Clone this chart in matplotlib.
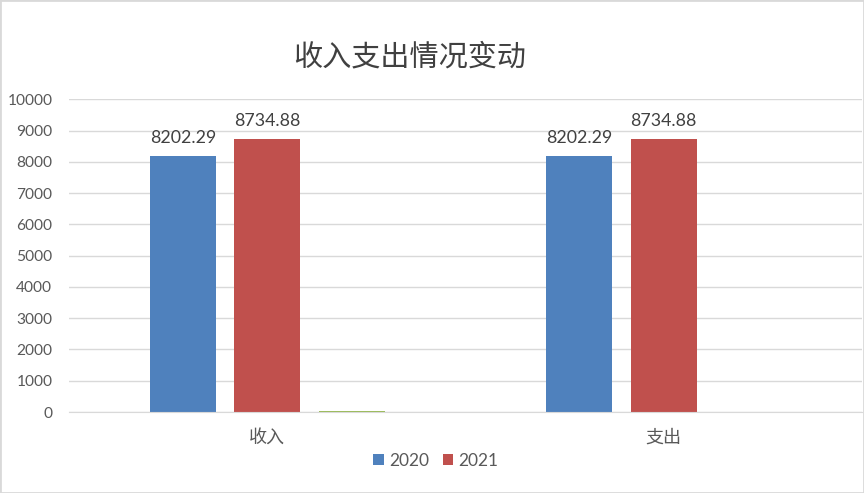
import matplotlib
matplotlib.use("Agg")
import matplotlib.pyplot as plt
from matplotlib.patches import Rectangle
import numpy as np

categories = ["收入", "支出"]
series_names = ["2020", "2021"]
values_2020 = [8202.29, 8202.29]
values_2021 = [8734.88, 8734.88]
values_extra = [30, 0]
yticks = [0, 1000, 2000, 3000, 4000, 5000, 6000, 7000, 8000, 9000, 10000]

plt.rcParams['font.family'] = ['Lato', 'Noto Sans CJK SC', 'DejaVu Sans']
txt = '#595959'

fig = plt.figure(figsize=(8.64, 4.93), dpi=100)
W, H = 864, 493
ax = fig.add_axes([69 / W, 1 - 412 / H, (862 - 69) / W, (412 - 99.3) / H])

x = np.arange(len(categories))
bw = 0.1665
off = 0.213
b1 = ax.bar(x - off, values_2020, bw, color='#4F81BD', label=series_names[0], zorder=3)
b2 = ax.bar(x, values_2021, bw, color='#C0504D', label=series_names[1], zorder=3)
ax.bar(x + off, values_extra, bw, color='#9BBB59', zorder=3)

for bars, vals in ((b1, values_2020), (b2, values_2021)):
    for r, v in zip(bars, vals):
        ax.annotate(f"{v:.2f}", (r.get_x() + r.get_width() / 2, v), xytext=(0, 7),
                    textcoords='offset points', ha='center', va='bottom',
                    fontsize=12.8, color='#404040')

ax.set_xlim(-0.5, 1.5)
ax.set_ylim(0, 10000)
ax.set_yticks(yticks)
ax.set_yticklabels([str(t) for t in yticks], fontsize=11.2, color=txt)
ax.set_xticks(x)
ax.set_xticklabels(categories, fontsize=13, color=txt, family=['Noto Sans CJK SC', 'DejaVu Sans'])
ax.tick_params(axis='both', length=0)
ax.tick_params(axis='y', pad=12)
ax.tick_params(axis='x', pad=12)
ax.grid(axis='y', color='#D9D9D9', linewidth=1, zorder=0)
for s in ('top', 'right', 'left'):
    ax.spines[s].set_visible(False)
ax.spines['bottom'].set_color('#D9D9D9')
ax.spines['bottom'].set_zorder(4)

fig.text(410 / W, 1 - 57 / H, "收入支出情况变动", ha='center', va='center', fontsize=21,
         color='#404040', family=['Noto Sans CJK SC', 'DejaVu Sans'])

leg = fig.legend(handles=[b1, b2], labels=series_names, loc='center',
                 bbox_to_anchor=(436 / W, 1 - 461 / H), ncol=2, frameon=False,
                 fontsize=12.5, handlelength=0.6, handleheight=0.6,
                 handletextpad=0.3, columnspacing=0.8)
for t in leg.get_texts():
    t.set_color(txt)

fig.patches.append(Rectangle((0, 0), 1, 1, transform=fig.transFigure, fill=False,
                             edgecolor='#D9D9D9', linewidth=2))

fig.savefig("out.png", dpi=100)
